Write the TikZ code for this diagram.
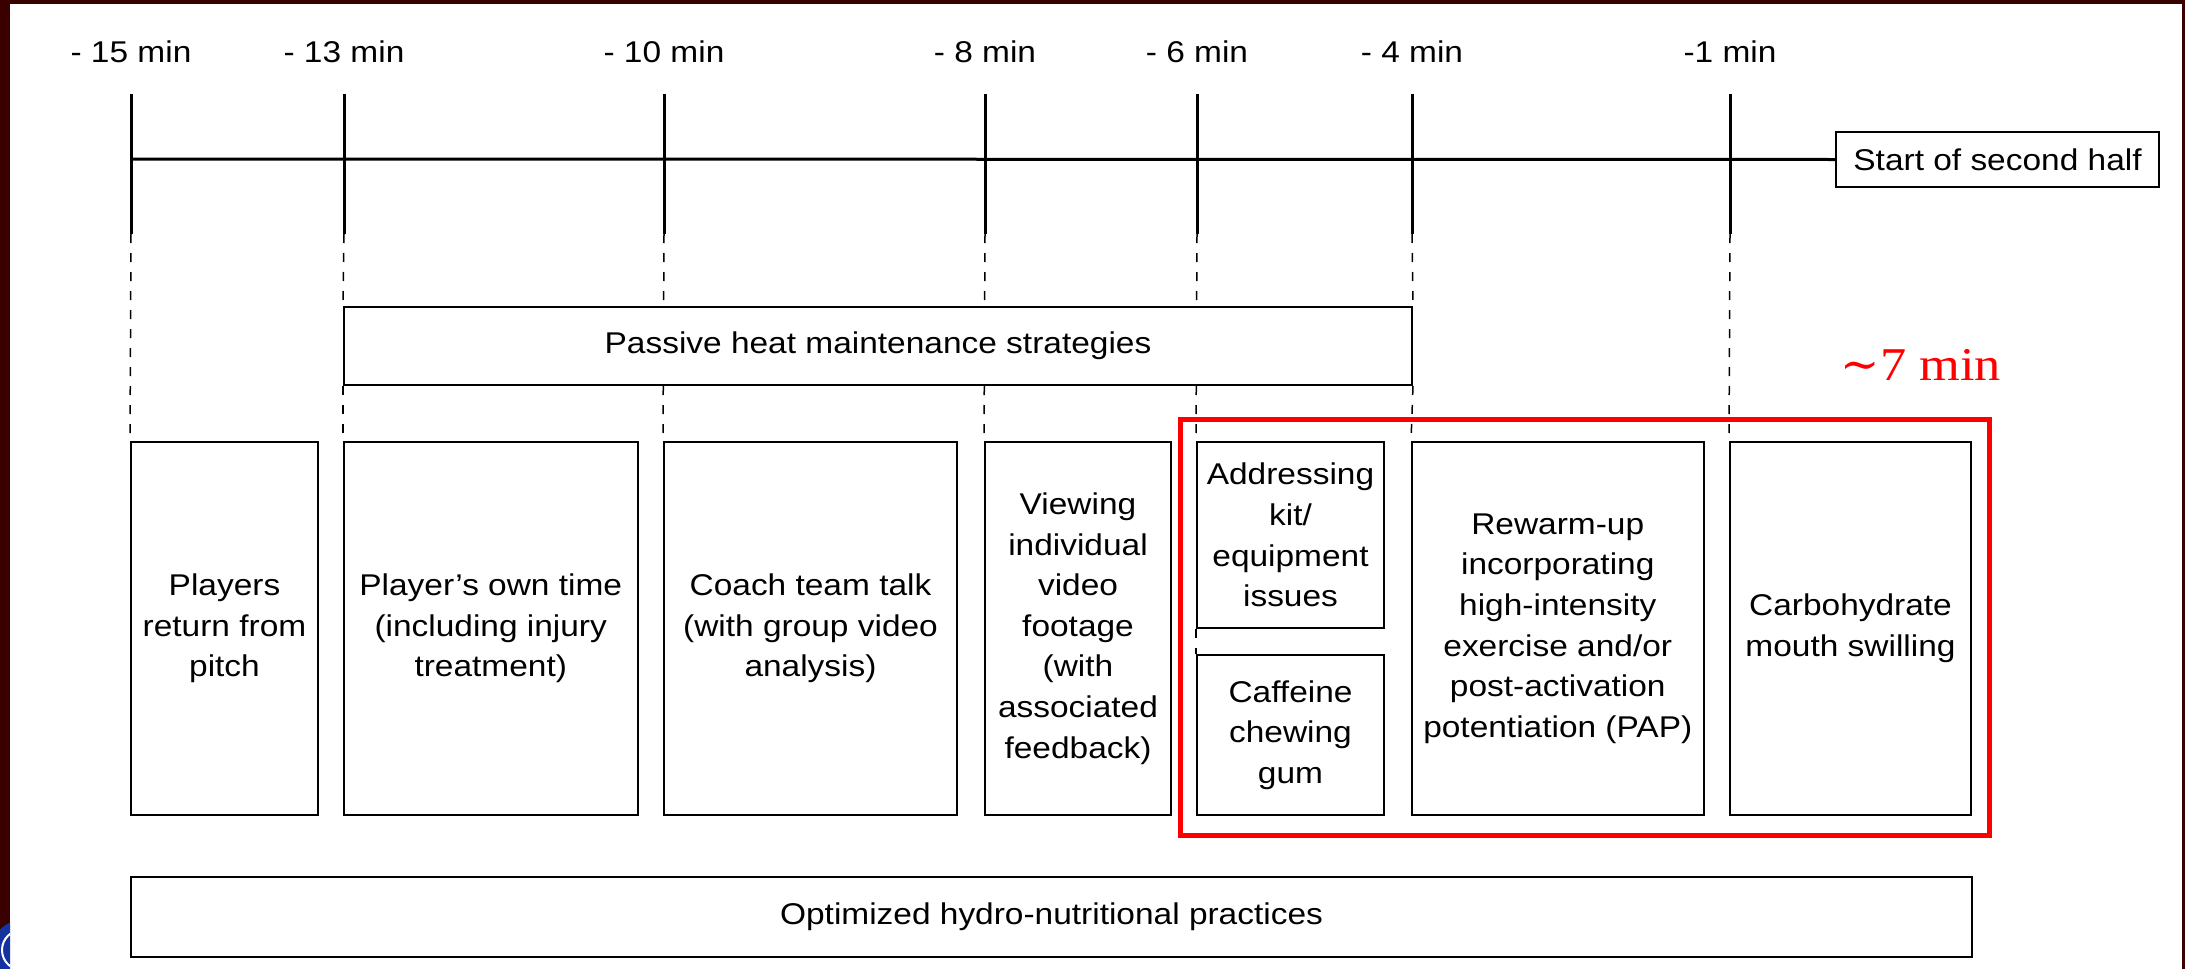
\documentclass[tikz,border=0pt]{standalone}
\usepackage{fontspec}
\setmainfont{Liberation Sans}[FakeStretch=1.115]
\newfontfamily\redserif{Liberation Serif}[FakeStretch=1.115]
\newfontfamily\tildefont{DejaVu Serif}
\definecolor{framecol}{RGB}{58,0,0}
\definecolor{logoblue}{RGB}{20,50,160}
\tikzset{
  boxtext/.style={font=\fontsize{30}{40.6}\selectfont},
  actbox/.style={draw=black, line width=2pt, fill=white, inner sep=0pt, align=center, boxtext},
  tickline/.style={line width=3pt, black},
  dashline/.style={line width=1.5pt, dash pattern=on 9pt off 10pt, black},
  ticklabel/.style={anchor=base, inner sep=0pt, boxtext},
  redframe/.style={draw=red, line width=5pt},
}
\begin{document}
\begin{tikzpicture}[x=1pt,y=-1pt]
\useasboundingbox (0,0) rectangle (2185,969);
\fill[white] (0,0) rectangle (2185,969);
% slide frame
\fill[framecol] (0,0) rectangle (10,969);
\fill[framecol] (0,0) rectangle (2185,4);
\fill[framecol] (2182,0) rectangle (2185,969);
\begin{scope}
\clip (0,920) rectangle (10,969);
\fill[logoblue] (22,950) circle (30);
\draw[white, line width=2pt] (22,950) circle (20);
\end{scope}

% tick coordinates
\foreach \n/\x in {1/131, 2/344, 3/664, 4/985, 5/1197, 6/1412, 7/1730}{
  \coordinate (top\n) at (\x,94);
  \coordinate (bot\n) at (\x,234);
  \coordinate (mid\n) at (\x,159);
}
% labels
\node[ticklabel] (l1) at (131,62) {- 15 min};
\node[ticklabel] (l2) at (344,62) {- 13 min};
\node[ticklabel] (l3) at (664,62) {- 10 min};
\node[ticklabel] (l4) at (985,62) {- 8 min};
\node[ticklabel] (l5) at (1197,62) {- 6 min};
\node[ticklabel] (l6) at (1412,62) {- 4 min};
\node[ticklabel] (l7) at (1730,62) {-1 min};

% start box
\node[actbox, line width=2.5pt, minimum width=323pt, minimum height=55pt] (start) at (1997.5,159.5) {Start of second half};

% timeline
\draw[tickline] (mid1) -- (start.west);
\foreach \n in {1,...,7}{ \draw[tickline] (top\n) -- (bot\n); }

% boxes (positions)
\path
  node[actbox, minimum width=1068pt, minimum height=78pt] (passive) at (878,346) {}
  node[actbox, minimum width=187pt, minimum height=373pt] (b1) at (224.5,628.5) {}
  node[actbox, minimum width=293.5pt, minimum height=373pt] (b2) at (490.75,628.5) {}
  node[actbox, minimum width=293pt, minimum height=373pt] (b3) at (810.5,628.5) {}
  node[actbox, minimum width=186pt, minimum height=373pt] (b4) at (1078,628.5) {}
  node[actbox, minimum width=187pt, minimum height=186pt] (b5a) at (1290.5,535) {}
  node[actbox, minimum width=187pt, minimum height=160pt] (b5b) at (1290.5,735) {}
  node[actbox, minimum width=291.5pt, minimum height=373pt] (b6) at (1557.75,628.5) {}
  node[actbox, minimum width=241pt, minimum height=373pt] (b7) at (1850.5,628.5) {}
  node[actbox, minimum width=1841pt, minimum height=80pt] (bottom) at (1051.5,917) {};

% dashed guides
\draw[dashline] (bot1) -- (b1.north west);
\draw[dashline] (bot2) -- (passive.north west);
\draw[dashline] (passive.south west) -- (b2.north west);
\draw[dashline] (bot3) -- (b3.north west);
\draw[dashline] (bot4) -- (b4.north west);
\draw[dashline] (bot5) -- (b5a.north west);
\draw[dashline] (b5a.south west) -- (b5b.north west);
\draw[dashline] (bot6) -- (passive.north east);
\draw[dashline] (passive.south east) -- (b6.north west);
\draw[dashline] (bot7) -- (b7.north west);

% boxes drawn on top
\node[actbox, minimum width=1068pt, minimum height=78pt] at (passive) {Passive heat maintenance strategies};
\node[actbox, minimum width=187pt, minimum height=373pt] at (b1) {Players\\return from\\pitch};
\node[actbox, minimum width=293.5pt, minimum height=373pt] at (b2) {Player’s own time\\(including injury\\treatment)};
\node[actbox, minimum width=293pt, minimum height=373pt] at (b3) {Coach team talk\\(with group video\\analysis)};
\node[actbox, minimum width=186pt, minimum height=373pt] at (b4) {Viewing\\individual\\video\\footage\\(with\\associated\\feedback)};
\node[actbox, minimum width=187pt, minimum height=186pt] at (b5a) {Addressing\\kit/\\equipment\\issues};
\node[actbox, minimum width=187pt, minimum height=160pt] at (b5b) {Caffeine\\chewing\\gum};
\node[actbox, minimum width=291.5pt, minimum height=373pt] at (b6) {Rewarm-up\\incorporating\\high-intensity\\exercise and/or\\post-activation\\potentiation (PAP)};
\node[actbox, minimum width=241pt, minimum height=373pt] at (b7) {Carbohydrate\\mouth swilling};
\node[actbox, minimum width=1841pt, minimum height=80pt] at (bottom) {Optimized hydro-nutritional practices};

% red highlight
\coordinate (rA) at (1180,419);
\coordinate (rB) at (1989,835);
\draw[redframe] (rA) rectangle (rB);
\node[anchor=base, inner sep=0pt, text=red, font=\redserif\fontsize{47}{50}\selectfont] (seven) at (1921,380) {{\tildefont ∼}7 min};
\end{tikzpicture}
\end{document}
